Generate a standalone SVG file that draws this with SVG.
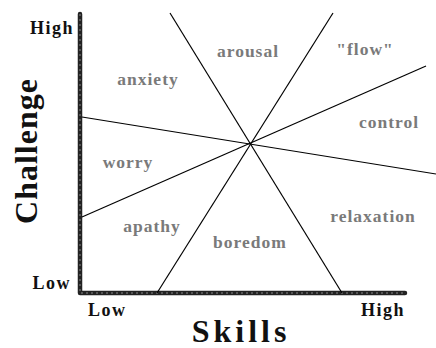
<svg xmlns="http://www.w3.org/2000/svg" width="436" height="348" viewBox="0 0 436 348">
<style>
.region{font-family:"Liberation Serif","Times New Roman",serif;font-weight:bold;font-size:17.5px;fill:#7a7a7a;letter-spacing:1px;text-anchor:middle}
.tick{font-family:"Liberation Serif","Times New Roman",serif;font-weight:bold;font-size:18px;fill:#111;letter-spacing:1.5px}
.title{font-family:"Liberation Serif","Times New Roman",serif;font-weight:bold;font-size:32px;fill:#111;text-anchor:middle}
.axis{fill:none;stroke:#222;stroke-width:4.5;stroke-linejoin:round;stroke-linecap:round}
.axistex{fill:none;stroke:#888;stroke-width:1;stroke-dasharray:2 3}
.conn{stroke:#000;stroke-width:1.2;fill:none}
</style>
<rect width="436" height="348" fill="#fff"/>
<g id="axes">
<path class="axis" d="M80 14 L80 293 L405 293"/>
<path class="axistex" d="M80 14 L80 293 L405 293"/>
</g>
<g id="connectors">
<line class="conn" x1="170" y1="13" x2="342" y2="293"/>
<line class="conn" x1="333" y1="13" x2="157" y2="293"/>
<line class="conn" x1="82" y1="117" x2="436" y2="174"/>
<line class="conn" x1="82" y1="217" x2="426" y2="66"/>
</g>
<g id="anxiety"><text class="region" x="148" y="85">anxiety</text></g>
<g id="arousal"><text class="region" x="248" y="57">arousal</text></g>
<g id="flow"><text class="region" x="365" y="55">"flow"</text></g>
<g id="control"><text class="region" x="389" y="128">control</text></g>
<g id="worry"><text class="region" x="128" y="168">worry</text></g>
<g id="apathy"><text class="region" x="152" y="232">apathy</text></g>
<g id="boredom"><text class="region" x="250" y="248">boredom</text></g>
<g id="relaxation"><text class="region" x="373" y="222">relaxation</text></g>
<g id="labels">
<text class="tick" x="74" y="34" text-anchor="end">High</text>
<text class="tick" x="71" y="289" text-anchor="end">Low</text>
<text class="tick" x="88" y="316">Low</text>
<text class="tick" x="361" y="316">High</text>
<text class="title" x="37" y="151" transform="rotate(-90 37 151)" letter-spacing="1">Challenge</text>
<text class="title" x="241" y="342" font-size="30" letter-spacing="4">Skills</text>
</g>
</svg>
